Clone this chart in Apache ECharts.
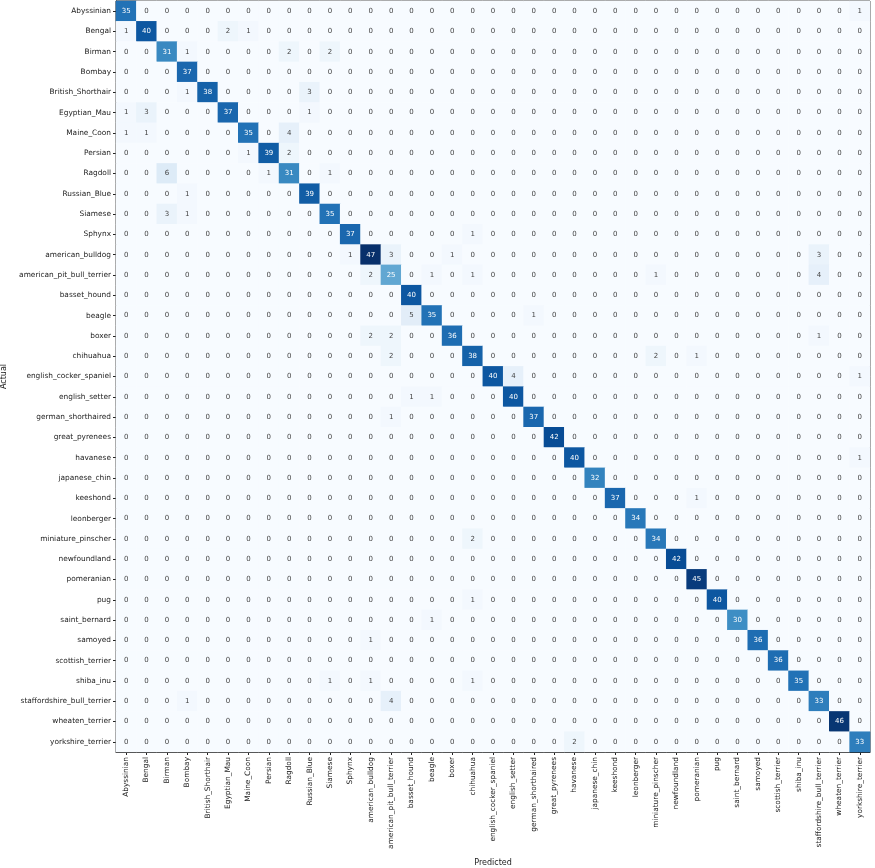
<!DOCTYPE html>
<html>
<head>
<meta charset="utf-8">
<script src="https://cdn.jsdelivr.net/npm/echarts@6/dist/echarts.min.js"></script>
<style>html,body{margin:0;padding:0;background:#fff;}#c{width:875px;height:868px;}</style>
</head>
<body>
<div id="c"></div>
<script>
const classes = ["Abyssinian","Bengal","Birman","Bombay","British_Shorthair","Egyptian_Mau","Maine_Coon","Persian","Ragdoll","Russian_Blue","Siamese","Sphynx","american_bulldog","american_pit_bull_terrier","basset_hound","beagle","boxer","chihuahua","english_cocker_spaniel","english_setter","german_shorthaired","great_pyrenees","havanese","japanese_chin","keeshond","leonberger","miniature_pinscher","newfoundland","pomeranian","pug","saint_bernard","samoyed","scottish_terrier","shiba_inu","staffordshire_bull_terrier","wheaten_terrier","yorkshire_terrier"];

// correct predictions (diagonal), per actual class
const diagonal = [35,40,31,37,38,37,35,39,31,39,35,37,47,25,40,35,36,38,40,40,37,42,40,32,37,34,34,42,45,40,30,36,36,35,33,46,33];

// misclassifications: [actual index, predicted index, count]
const offDiagonal = [
  [0,36,1],
  [1,0,1],[1,5,2],[1,6,1],
  [2,3,1],[2,8,2],[2,10,2],
  [4,3,1],[4,9,3],
  [5,0,1],[5,1,3],[5,9,1],
  [6,0,1],[6,1,1],[6,8,4],
  [7,6,1],[7,8,2],
  [8,2,6],[8,7,1],[8,10,1],
  [9,3,1],
  [10,2,3],[10,3,1],
  [11,17,1],
  [12,11,1],[12,13,3],[12,16,1],[12,34,3],
  [13,12,2],[13,15,1],[13,17,1],[13,26,1],[13,34,4],
  [15,14,5],[15,20,1],
  [16,12,2],[16,13,2],[16,34,1],
  [17,13,2],[17,26,2],[17,28,1],
  [18,19,4],[18,36,1],
  [19,14,1],[19,15,1],
  [20,13,1],
  [22,36,1],
  [24,28,1],
  [26,17,2],
  [29,17,1],
  [30,15,1],
  [31,12,1],
  [33,10,1],[33,12,1],[33,17,1],
  [34,3,1],[34,13,4],
  [36,22,2]
];

const n = classes.length;
const M = [];
for (let i = 0; i < n; i++) { M.push(new Array(n).fill(0)); M[i][i] = diagonal[i]; }
offDiagonal.forEach(([a,p,v]) => { M[a][p] = v; });
let maxV = 0;
M.forEach(r => r.forEach(v => { if (v > maxV) maxV = v; }));

const data = [];
for (let i = 0; i < n; i++) for (let j = 0; j < n; j++) {
  const v = M[i][j];
  data.push({ value: [j, i, v], label: { color: v > maxV / 2 ? '#ffffff' : '#444444' } });
}

const chart = echarts.init(document.getElementById('c'));
chart.setOption({
  backgroundColor: '#ffffff',
  animation: false,
  grid: { left: 116, top: 1, right: 5, bottom: 116, containLabel: false, outerBoundsMode: 'none', show: true, borderColor: '#222', borderWidth: 1, backgroundColor: 'transparent' },
  xAxis: {
    type: 'category', data: classes, position: 'bottom',
    name: 'Predicted', nameLocation: 'middle', nameGap: 107,
    nameTextStyle: { fontSize: 8, color: '#222', fontFamily: 'DejaVu Sans' },
    axisLine: { show: true, lineStyle: { color: '#222' } },
    axisTick: { show: true, alignWithLabel: true, length: 3, lineStyle: { color: '#222' } },
    axisLabel: { rotate: 90, fontSize: 7.4, color: '#222', interval: 0, margin: 5, fontFamily: 'DejaVu Sans' },
    splitLine: { show: false }, splitArea: { show: false }
  },
  yAxis: {
    type: 'category', data: classes, inverse: true,
    name: 'Actual', nameLocation: 'middle', nameGap: 108, nameRotate: 90,
    nameTextStyle: { fontSize: 8, color: '#222', fontFamily: 'DejaVu Sans' },
    axisLine: { show: true, lineStyle: { color: '#222' } },
    axisTick: { show: true, alignWithLabel: true, length: 3, lineStyle: { color: '#222' } },
    axisLabel: { fontSize: 7.4, color: '#222', interval: 0, margin: 5, fontFamily: 'DejaVu Sans' },
    splitLine: { show: false }, splitArea: { show: false }
  },
  visualMap: {
    show: false, min: 0, max: maxV, dimension: 2,
    inRange: { color: ['#f7fbff','#deebf7','#c6dbef','#9ecae1','#6baed6','#4292c6','#2171b5','#08519c','#08306b'] }
  },
  series: [{
    type: 'heatmap',
    data: data,
    label: { show: true, fontSize: 7, fontFamily: 'DejaVu Sans', formatter: p => p.value[2] },
    itemStyle: { borderWidth: 0 },
    emphasis: { disabled: true }
  }]
});
</script>
</body>
</html>
